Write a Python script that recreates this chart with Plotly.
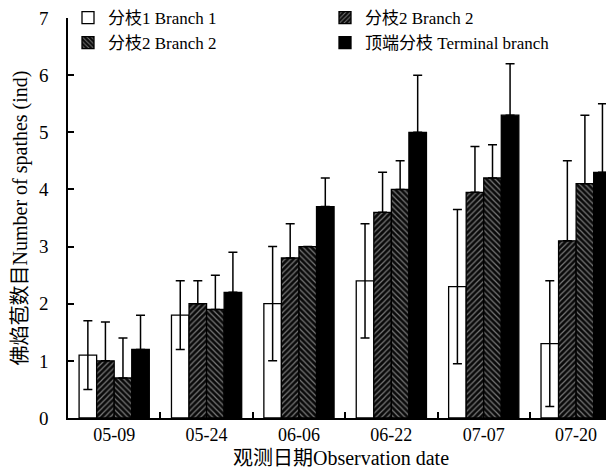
import plotly.graph_objects as go

dates = ["05-09", "05-24", "06-06", "06-22", "07-07", "07-20"]
names = ["分枝1 Branch 1", "分枝2 Branch 2", "分枝2 Branch 2", "顶端分枝 Terminal branch"]
branch1 = [1.1, 1.8, 2.0, 2.4, 2.3, 1.3]
branch1_err = [0.6, 0.6, 1.0, 1.0, 1.35, 1.1]
branch2a = [1.0, 2.0, 2.8, 3.6, 3.95, 3.1]
branch2a_err = [0.68, 0.4, 0.6, 0.7, 0.8, 1.4]
branch2b = [0.7, 1.9, 3.0, 4.0, 4.2, 4.1]
branch2b_err = [0.7, 0.6, 0.0, 0.5, 0.58, 1.2]
terminal = [1.2, 2.2, 3.7, 5.0, 5.3, 4.3]
terminal_err = [0.6, 0.7, 0.5, 1.0, 0.9, 1.2]
yticks = [0, 1, 2, 3, 4, 5, 6, 7]

serif = "Liberation Serif, Noto Sans CJK SC, serif"

fig = go.Figure()

def err(vals, symmetric):
    d = dict(type="data", array=vals, visible=True, color="black",
             thickness=1.5, width=4.5)
    if not symmetric:
        d["symmetric"] = False
        d["arrayminus"] = [0] * len(vals)
    return d

fig.add_trace(go.Bar(
    x=dates, y=branch1, name=names[0],
    marker=dict(color="white", line=dict(color="black", width=1.3)),
    error_y=err(branch1_err, True)))
fig.add_trace(go.Bar(
    x=dates, y=branch2a, name=names[1],
    marker=dict(color="black", line=dict(color="black", width=1.3),
                pattern=dict(shape="/", fgcolor="#e6e6e6", bgcolor="#0a0a0a",
                             size=4, solidity=0.3)),
    error_y=err(branch2a_err, False)))
fig.add_trace(go.Bar(
    x=dates, y=branch2b, name=names[2],
    marker=dict(color="black", line=dict(color="black", width=1.3),
                pattern=dict(shape="\\", fgcolor="#e6e6e6", bgcolor="#0a0a0a",
                             size=4, solidity=0.3)),
    error_y=err(branch2b_err, False)))
fig.add_trace(go.Bar(
    x=dates, y=terminal, name=names[3],
    marker=dict(color="black", line=dict(color="black", width=1.3)),
    error_y=err(terminal_err, False)))

fig.update_layout(
    width=606, height=461,
    margin=dict(l=60, r=0, t=10, b=51, autoexpand=False),
    plot_bgcolor="white", paper_bgcolor="white",
    barmode="group", bargap=0.24, bargroupgap=0,
    font=dict(family=serif, size=18, color="black"),
    showlegend=True,
    legend=dict(orientation="h", x=0.0, y=1.045, xanchor="left", yanchor="top",
                entrywidth=212, entrywidthmode="pixels",
                font=dict(family=serif, size=17, color="black"),
                bgcolor="rgba(0,0,0,0)", tracegroupgap=0, itemwidth=30),
    xaxis=dict(type="category", range=[-0.5, 5.41], showline=True,
               linecolor="black", linewidth=1.5,
               ticks="inside", tickson="boundaries", ticklen=6, tickcolor="black",
               tickwidth=1.5, mirror=False, showgrid=False,
               tickfont=dict(family=serif, size=18),
               title=dict(text="观测日期Observation date", standoff=7,
                          font=dict(family=serif, size=20))),
    yaxis=dict(range=[0, 7], tickvals=yticks, showline=True, linecolor="black",
               linewidth=1.5, ticks="inside", ticklen=6, tickcolor="black",
               tickwidth=1.5, showgrid=False, zeroline=False,
               ticklabelstandoff=14, ticklabeloverflow="allow",
               tickfont=dict(family=serif, size=19),
               title=dict(text="佛焰苞数目Number of spathes (ind)", standoff=6,
                          font=dict(family=serif, size=20))),
)

fig.write_html("out.html")
